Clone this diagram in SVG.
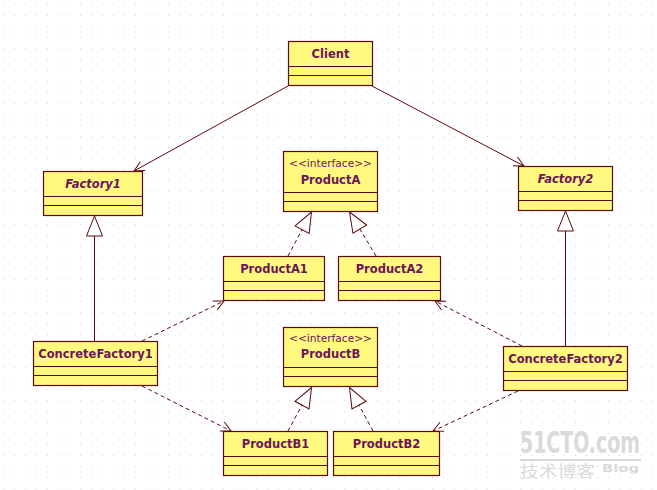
<svg xmlns="http://www.w3.org/2000/svg" width="657" height="490" viewBox="0 0 657 490">
<defs>
<pattern id="grid" x="3" y="4" width="11" height="11" patternUnits="userSpaceOnUse">
<rect x="0" y="0" width="1" height="1" fill="#d4d4d4"/>
</pattern>
<marker id="open" markerUnits="userSpaceOnUse" markerWidth="12" markerHeight="12" refX="10" refY="5" orient="auto" overflow="visible">
<path d="M0,0 L10,5 L0,10" fill="none" stroke="#5c0a0a" stroke-width="1"/>
</marker>
<marker id="tri" markerUnits="userSpaceOnUse" markerWidth="22" markerHeight="18" refX="20" refY="8" orient="auto" overflow="visible">
<path d="M0,0 L20,8 L0,16 Z" fill="#ffffff" stroke="#5c0a0a" stroke-width="1"/>
</marker>
</defs>
<style>
.box{fill:#fff97f;stroke:#5c0a0a;stroke-width:1.2}
.div{stroke:#5c0a0a;stroke-width:1.2}
.name{font-family:"DejaVu Sans",sans-serif;font-weight:bold;font-size:11.5px;fill:#6b1559;text-anchor:middle}
.abs{font-style:italic}
.st{font-family:"DejaVu Sans",sans-serif;font-size:11px;fill:#6b1559}
.c{fill:none;stroke:#5c0a0a;stroke-width:1}
.d{stroke-dasharray:4,3}
.wm{font-family:"DejaVu Sans Condensed","DejaVu Sans",sans-serif;font-weight:bold;fill:#dadada}
</style>
<rect width="657" height="490" fill="#ffffff"/>
<rect width="657" height="490" fill="url(#grid)"/>

<g id="connectors">
<line class="c" x1="288" y1="86" x2="134" y2="171" marker-end="url(#open)"/>
<line class="c" x1="372" y1="86" x2="524" y2="166" marker-end="url(#open)"/>
<line class="c" x1="94.5" y1="341" x2="94.5" y2="216" marker-end="url(#tri)"/>
<line class="c" x1="565.5" y1="346" x2="565.5" y2="211" marker-end="url(#tri)"/>
<line class="c d" x1="288" y1="256" x2="311.5" y2="212" marker-end="url(#tri)"/>
<line class="c d" x1="376" y1="256" x2="349.5" y2="212" marker-end="url(#tri)"/>
<line class="c d" x1="288" y1="431" x2="311.5" y2="387.5" marker-end="url(#tri)"/>
<line class="c d" x1="373" y1="431" x2="349.5" y2="387.5" marker-end="url(#tri)"/>
<line class="c d" x1="142" y1="341" x2="224" y2="301" marker-end="url(#open)"/>
<line class="c d" x1="142" y1="386" x2="231" y2="431" marker-end="url(#open)"/>
<line class="c d" x1="522" y1="346" x2="435" y2="301" marker-end="url(#open)"/>
<line class="c d" x1="518" y1="391" x2="433" y2="431" marker-end="url(#open)"/>
</g>

<g id="Client">
<rect class="box" x="288.5" y="41.5" width="84" height="44"/>
<line class="div" x1="288.5" y1="66.5" x2="372.5" y2="66.5"/>
<line class="div" x1="288.5" y1="75.5" x2="372.5" y2="75.5"/>
<text class="name" x="330.5" y="58">Client</text>
</g>

<g id="Factory1">
<rect class="box" x="43.5" y="171.5" width="99" height="44"/>
<line class="div" x1="43.5" y1="196.5" x2="142.5" y2="196.5"/>
<line class="div" x1="43.5" y1="205.5" x2="142.5" y2="205.5"/>
<text class="name abs" x="93" y="188">Factory1</text>
</g>

<g id="ProductA">
<rect class="box" x="283.5" y="151.5" width="94" height="60"/>
<line class="div" x1="283.5" y1="192.5" x2="377.5" y2="192.5"/>
<line class="div" x1="283.5" y1="201.5" x2="377.5" y2="201.5"/>
<text class="st" x="289" y="167" textLength="83" lengthAdjust="spacingAndGlyphs">&lt;&lt;interface&gt;&gt;</text>
<text class="name" x="330.5" y="184">ProductA</text>
</g>

<g id="Factory2">
<rect class="box" x="518.5" y="166.5" width="94" height="44"/>
<line class="div" x1="518.5" y1="191.5" x2="612.5" y2="191.5"/>
<line class="div" x1="518.5" y1="200.5" x2="612.5" y2="200.5"/>
<text class="name abs" x="565.5" y="183">Factory2</text>
</g>

<g id="ProductA1">
<rect class="box" x="223.5" y="256.5" width="101" height="44"/>
<line class="div" x1="223.5" y1="281.5" x2="324.5" y2="281.5"/>
<line class="div" x1="223.5" y1="290.5" x2="324.5" y2="290.5"/>
<text class="name" x="274" y="273">ProductA1</text>
</g>

<g id="ProductA2">
<rect class="box" x="338.5" y="256.5" width="102" height="44"/>
<line class="div" x1="338.5" y1="281.5" x2="440.5" y2="281.5"/>
<line class="div" x1="338.5" y1="290.5" x2="440.5" y2="290.5"/>
<text class="name" x="389.5" y="273">ProductA2</text>
</g>

<g id="ConcreteFactory1">
<rect class="box" x="33.5" y="341.5" width="124" height="44"/>
<line class="div" x1="33.5" y1="366.5" x2="157.5" y2="366.5"/>
<line class="div" x1="33.5" y1="375.5" x2="157.5" y2="375.5"/>
<text class="name" x="95.5" y="358">ConcreteFactory1</text>
</g>

<g id="ProductB">
<rect class="box" x="283.5" y="327.5" width="94" height="59"/>
<line class="div" x1="283.5" y1="367.5" x2="377.5" y2="367.5"/>
<line class="div" x1="283.5" y1="376.5" x2="377.5" y2="376.5"/>
<text class="st" x="289" y="342" textLength="83" lengthAdjust="spacingAndGlyphs">&lt;&lt;interface&gt;&gt;</text>
<text class="name" x="330.5" y="358">ProductB</text>
</g>

<g id="ConcreteFactory2">
<rect class="box" x="503.5" y="346.5" width="124" height="44"/>
<line class="div" x1="503.5" y1="371.5" x2="627.5" y2="371.5"/>
<line class="div" x1="503.5" y1="380.5" x2="627.5" y2="380.5"/>
<text class="name" x="565.5" y="363">ConcreteFactory2</text>
</g>

<g id="ProductB1">
<rect class="box" x="223.5" y="431.5" width="104" height="44"/>
<line class="div" x1="223.5" y1="456.5" x2="327.5" y2="456.5"/>
<line class="div" x1="223.5" y1="465.5" x2="327.5" y2="465.5"/>
<text class="name" x="275.5" y="447.5">ProductB1</text>
</g>

<g id="ProductB2">
<rect class="box" x="333.5" y="431.5" width="106" height="44"/>
<line class="div" x1="333.5" y1="456.5" x2="439.5" y2="456.5"/>
<line class="div" x1="333.5" y1="465.5" x2="439.5" y2="465.5"/>
<text class="name" x="386.5" y="447.5">ProductB2</text>
</g>

<g id="watermark">
<text class="wm" transform="translate(520,453) scale(1,1.45)" x="0" y="0" font-size="21" textLength="120" lengthAdjust="spacingAndGlyphs">51CTO.com</text>
<rect x="520" y="459" width="121" height="2" fill="#dadada"/>
<text x="520" y="477" font-size="16" fill="#dadada" style="font-family:'Noto Sans CJK SC',sans-serif" textLength="75" lengthAdjust="spacingAndGlyphs">技术博客</text>
<text class="wm" x="602" y="472" font-size="11" textLength="37" lengthAdjust="spacingAndGlyphs">Blog</text>
</g>
</svg>
